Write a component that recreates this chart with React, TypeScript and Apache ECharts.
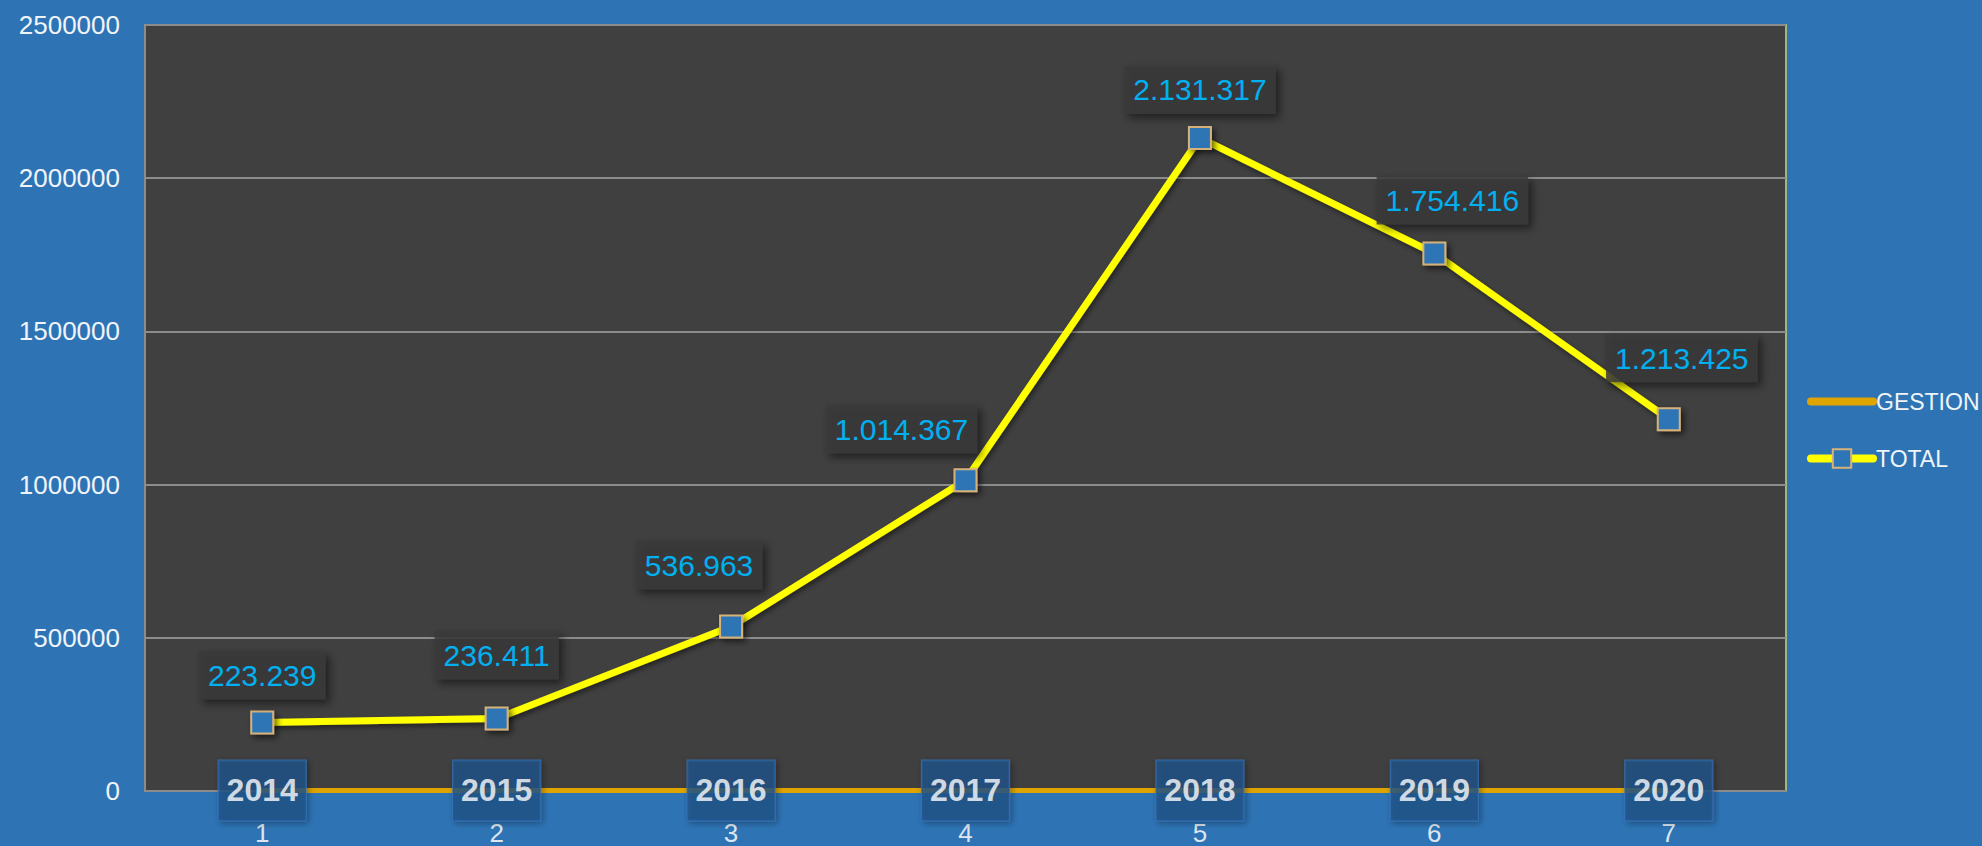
import React, { useEffect, useRef } from 'react';
import * as echarts from 'echarts';

const categories = ['1', '2', '3', '4', '5', '6', '7'];
const gestion = [2014, 2015, 2016, 2017, 2018, 2019, 2020];
const total = [223239, 236411, 536963, 1014367, 2131317, 1754416, 1213425];
const yMin = 0;
const yMax = 2500000;
const yInterval = 500000;

// label placement (style), in px relative to each marker
const labelOffsets = [[0, -47], [0, -63], [-32, -61], [-64, -51], [0, -48], [18, -53], [13, -61]];

const FONT = '"Liberation Sans", Arial, sans-serif';

function fmt(v: number): string {
  return String(v).replace(/\B(?=(\d{3})+(?!\d))/g, '.');
}

export default function App() {
  const ref = useRef<HTMLDivElement>(null);
  useEffect(() => {
    if (!ref.current) return;
    const chart = echarts.init(ref.current, undefined, { renderer: 'svg' });
    chart.setOption({
      animation: false,
      backgroundColor: '#2e74b5',
      textStyle: { fontFamily: FONT },
      grid: {
        left: 145, top: 25, width: 1641, height: 768,
        show: true, backgroundColor: '#404040', borderColor: '#9bbb7a', borderWidth: 2,
      },
      legend: {
        orient: 'vertical', left: 1807, top: 390,
        itemWidth: 62, itemHeight: 23, itemGap: 34, padding: 0,
        textStyle: { color: '#f0f4f8', fontSize: 23, fontFamily: FONT, padding: [0, 0, 0, -2] },
        data: [
          { name: 'GESTION', itemStyle: { opacity: 0 }, lineStyle: { width: 8, cap: 'round' } },
          { name: 'TOTAL', lineStyle: { width: 8, cap: 'round' } },
        ],
      },
      xAxis: {
        type: 'category', data: categories, boundaryGap: true,
        axisLine: { show: true, lineStyle: { color: '#8c8c8c', width: 2 } },
        axisTick: { show: false },
        axisLabel: { color: '#dde6f0', fontSize: 26, margin: 29, fontFamily: FONT },
        splitLine: { show: false },
      },
      yAxis: {
        type: 'value', min: yMin, max: yMax, interval: yInterval,
        axisLine: { show: true, lineStyle: { color: '#8c8c8c', width: 2 } },
        axisTick: { show: false },
        axisLabel: { color: '#f0f4f8', fontSize: 26, margin: 25, fontFamily: FONT, formatter: (v: number) => String(v) },
        splitLine: { lineStyle: { color: '#8c8c8c', width: 2 } },
      },
      series: [
        {
          name: 'GESTION', type: 'line', data: gestion, symbol: 'none', z: 3,
          lineStyle: { color: '#e0a400', width: 5 },
          itemStyle: { color: '#e0a400' },
        },
        {
          name: 'TOTAL', type: 'line', z: 4,
          data: total.map((v, i) => ({ value: v, label: { offset: labelOffsets[i] } })),
          symbol: 'rect', symbolSize: 22,
          lineStyle: { color: '#ffff00', width: 7, shadowColor: 'rgba(0,0,0,0.45)', shadowBlur: 5, shadowOffsetX: 2, shadowOffsetY: 3 },
          itemStyle: {
            color: '#2e75b6', borderColor: '#d6b27a', borderWidth: 2,
            shadowColor: 'rgba(0,0,0,0.6)', shadowBlur: 6, shadowOffsetX: 3, shadowOffsetY: 3,
          },
          label: {
            show: true, position: 'inside',
            formatter: (p: any) => fmt(p.value),
            color: '#00b0f0', fontSize: 30, fontFamily: FONT,
            backgroundColor: 'rgba(58,58,58,0.85)', padding: [10, 9, 8, 9],
            shadowColor: 'rgba(0,0,0,0.6)', shadowBlur: 8, shadowOffsetX: 4, shadowOffsetY: 4,
          },
        },
        {
          name: 'GESTION_years', type: 'scatter', data: gestion, z: 6, silent: true,
          symbolSize: 1, itemStyle: { color: 'transparent' },
          label: {
            show: true, position: 'inside',
            formatter: (p: any) => String(p.value),
            color: '#ffffff', fontSize: 32, fontWeight: 'bold', fontFamily: FONT,
            backgroundColor: '#21548a', borderColor: '#3473b8', borderWidth: 1,
            padding: [15, 8, 13, 8],
            shadowColor: 'rgba(0,0,0,0.4)', shadowBlur: 6, shadowOffsetX: 2, shadowOffsetY: 2,
          },
        },
      ],
    });
    return () => chart.dispose();
  }, []);
  return <div ref={ref} style={{ position: 'absolute', left: 0, top: 0, width: 1982, height: 846 }} />;
}
